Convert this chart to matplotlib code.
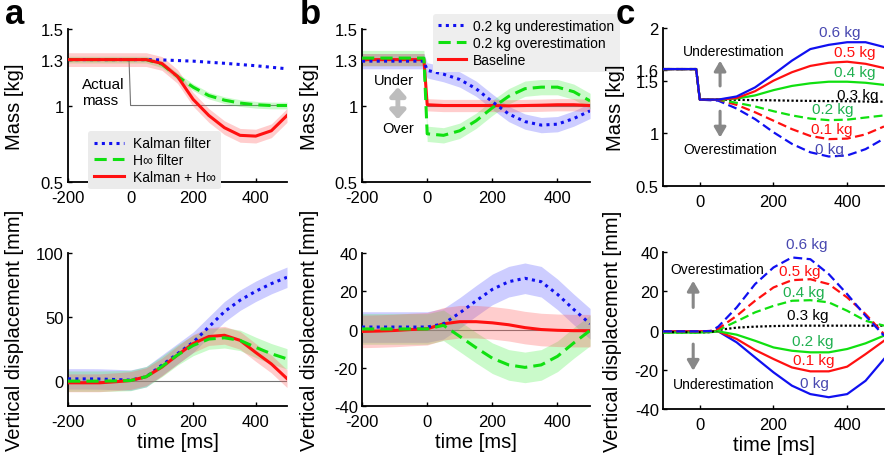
import matplotlib
matplotlib.use("Agg")
import matplotlib.pyplot as plt
import numpy as np

plt.rcParams['font.family'] = ['Liberation Sans', 'DejaVu Sans']
plt.rcParams['axes.unicode_minus'] = False

BLUE = '#1010f0'
GREEN = '#10e010'
RED = '#ff1010'
TXT_BLUE = '#4848b0'
TXT_GREEN = '#20b050'
BAND = {'blue': '#5a5aff', 'green': '#50f050', 'red': '#ff5a5a'}

# ---------------- data ----------------
t_a = [-200, -150, -100, -50, 0, 50, 100, 150, 200, 250, 300, 350, 400, 450, 500]

# panel a, mass estimate [kg]
kalman_m = [1.3, 1.3, 1.3, 1.3, 1.3, 1.3, 1.298, 1.294, 1.29, 1.283, 1.276, 1.268, 1.26, 1.25, 1.24]
hinf_m = [1.3, 1.3, 1.3, 1.3, 1.3, 1.3, 1.27, 1.19, 1.12, 1.065, 1.035, 1.016, 1.005, 1.0, 1.0]
combo_m = [1.3, 1.3, 1.3, 1.3, 1.3, 1.3, 1.275, 1.19, 1.04, 0.935, 0.855, 0.805, 0.80, 0.835, 0.935]
actual_t = [-200, -5, 0, 500]
actual_m = [1.3, 1.3, 1.0, 1.0]

# panel a, vertical displacement [mm]
kalman_d = [1.3, 1.3, 1.2, 0.8, 0.3, 3, 12, 21, 30, 42, 54, 63, 70, 76, 81]
hinf_d = [-0.5, -0.5, -0.5, -0.3, 0, 3, 11, 20, 27.5, 32.5, 33.5, 31.5, 26, 21, 17]
combo_d = [-1.8, -1.8, -1.8, -1, 0, 3, 10.5, 20, 29, 34.5, 35.5, 31.5, 22, 13, 1.5]

# panel b
t_bm = [-200, -150, -100, -50, -10, 0, 50, 100, 150, 200, 250, 300, 350, 400, 450, 500]
under_m = [1.29, 1.29, 1.29, 1.29, 1.29, 1.23, 1.205, 1.17, 1.11, 1.025, 0.945, 0.895, 0.872, 0.878, 0.915, 0.965]
over_m = [1.31, 1.31, 1.31, 1.31, 1.31, 0.815, 0.805, 0.835, 0.9, 0.985, 1.06, 1.11, 1.12, 1.12, 1.09, 1.03]
base_m = [1.3, 1.3, 1.3, 1.3, 1.3, 1.005, 1.0, 1.0, 1.0, 1.0, 0.998, 1.0, 1.002, 1.005, 1.005, 1.0]

t_bd = t_a
under_d = [1.3, 1.3, 1.3, 1.3, 1.3, 3, 8.7, 15, 21, 25, 26.8, 25, 18.4, 10.5, 3]
over_d = [0.3, 0.3, 0.3, 0.3, 0.3, 2.2, -3.6, -9.5, -15, -18.5, -19.8, -18.5, -14, -7, -0.5]
base_d = [-1, -0.8, -0.5, 0, 0.4, 3, 4.1, 4.1, 3.5, 2.5, 1, 0, -0.4, -0.6, -0.6]

# band half widths
band_a_m = {'hinf': 0.022, 'combo': 0.045}
band_a_d = {'kalman': 8, 'hinf': 8, 'combo': 7}
band_b_m = {'under': 0.05, 'over': 0.05, 'base': 0.04}
band_b_d = {'under': 8, 'over': 8, 'base': 8.5}

# panel c
loads = ['0.6 kg', '0.5 kg', '0.4 kg', '0.3 kg', '0.2 kg', '0.1 kg', '0 kg']
t_cm = [-100, -50, -10, 0, 50, 100, 150, 200, 250, 300, 350, 400, 450, 500]
c_mass = [
    [1.61, 1.61, 1.61, 1.32, 1.32, 1.35, 1.436, 1.56, 1.69, 1.80, 1.84, 1.865, 1.865, 1.82],
    [1.61, 1.61, 1.61, 1.32, 1.32, 1.335, 1.40, 1.50, 1.58, 1.64, 1.67, 1.68, 1.66, 1.62],
    [1.61, 1.61, 1.61, 1.32, 1.32, 1.33, 1.36, 1.41, 1.45, 1.475, 1.49, 1.49, 1.48, 1.46],
    [1.61, 1.61, 1.61, 1.32, 1.32, 1.318, 1.315, 1.313, 1.31, 1.308, 1.306, 1.305, 1.302, 1.30],
    [1.61, 1.61, 1.61, 1.32, 1.32, 1.29, 1.255, 1.21, 1.17, 1.14, 1.125, 1.13, 1.15, 1.17],
    [1.61, 1.61, 1.61, 1.32, 1.32, 1.27, 1.20, 1.12, 1.04, 0.975, 0.945, 0.95, 0.99, 1.065],
    [1.61, 1.61, 1.61, 1.32, 1.31, 1.235, 1.135, 1.01, 0.90, 0.82, 0.78, 0.79, 0.85, 0.95],
]
t_cd = [-100, -50, 0, 30, 50, 100, 150, 200, 250, 300, 350, 400, 450, 500]
c_disp = [
    [-0.4, -0.4, -0.4, -0.2, 2, 11.8, 23.7, 32.2, 37.3, 36.4, 28.8, 18.6, 7.5, -2.6],
    [-0.4, -0.4, -0.4, -0.2, 1, 7.5, 15.2, 22, 25.7, 26.2, 23.7, 16.9, 8.4, -1.8],
    [-1, -1, -1, -0.5, 0.3, 4.7, 9.3, 12.6, 15.2, 15.5, 14.4, 10.1, 5, 2.5],
    [-0.8, -0.8, -0.8, -0.8, 0.3, 1.5, 2, 2.3, 2.5, 2.5, 2.5, 2.5, 2.5, 2.5],
    [-1, -1, -1, -0.8, -0.4, -2.1, -5.2, -8.6, -10.3, -11.1, -11.1, -9.4, -6.5, -2.6],
    [-0.4, -0.4, -0.4, -0.4, -0.4, -4.3, -9.9, -14.5, -18.8, -20.8, -20.8, -18.4, -12, -5.2],
    [-0.4, -0.4, -0.4, -0.4, -0.4, -6, -13.7, -21.3, -28.1, -32.4, -34, -32.4, -25.6, -14.5],
]
c_colors = [BLUE, RED, GREEN, 'black', GREEN, RED, BLUE]
c_txt_colors = [TXT_BLUE, RED, TXT_GREEN, 'black', TXT_GREEN, RED, TXT_BLUE]
c_mass_styles = ['-', '-', '-', (0, (1, 1)), (0, (4, 2)), (0, (4, 2)), (0, (4, 2))]
c_disp_styles = [(0, (4, 2)), (0, (4, 2)), (0, (4, 2)), (0, (1, 1)), '-', '-', '-']
c_mass_lab = [(381, 1.965), (420, 1.775), (420, 1.585), (429, 1.36), (360, 1.23), (358, 1.045), (352, 0.855)]
c_disp_lab = [(290, 44), (270, 30.5), (282, 19.5), (293, 8), (307, -5.2), (309, -15), (311, -26.9)]

DOT = (0, (1, 1.4))
DASH = (0, (4, 2))

fig = plt.figure(figsize=(8.88, 4.64), dpi=100)


def add_ax(l, b, w, h):
    ax = fig.add_axes([l, b, w, h])
    for s in ['top', 'right']:
        ax.spines[s].set_visible(False)
    for s in ['left', 'bottom']:
        ax.spines[s].set_linewidth(1.3)
    ax.tick_params(direction='in', length=3, width=1, labelsize=12, pad=3)
    ax.tick_params(axis='x', pad=6)
    return ax


def band(ax, x, y, w, color):
    y = np.array(y)
    ax.fill_between(x, y - w, y + w, color=color, alpha=0.3, lw=0, zorder=1)


ax1 = add_ax(0.0766, 0.6056, 0.2466, 0.3297)
ax2 = add_ax(0.0766, 0.1228, 0.2466, 0.3297)
ax3 = add_ax(0.4077, 0.6056, 0.2568, 0.3297)
ax4 = add_ax(0.4077, 0.1228, 0.2568, 0.3297)
ax5 = add_ax(0.7466, 0.597, 0.2489, 0.3405)
ax6 = add_ax(0.7466, 0.1164, 0.2489, 0.338)

# ---- panel a top
ax1.plot(actual_t, actual_m, color='0.45', lw=0.8, zorder=0.5)
band(ax1, t_a, hinf_m, band_a_m['hinf'], BAND['green'])
band(ax1, t_a, combo_m, band_a_m['combo'], BAND['red'])
ax1.plot(t_a, kalman_m, color=BLUE, ls=DOT, lw=2.2, label='Kalman filter', zorder=3)
ax1.plot(t_a, hinf_m, color=GREEN, ls=DASH, lw=2.2, label='H∞ filter', zorder=3)
ax1.plot(t_a, combo_m, color=RED, ls='-', lw=2.2, label='Kalman + H∞', zorder=3)
ax1.set_xlim(-200, 500)
ax1.set_ylim(0.5, 1.5)
ax1.set_yticks([0.5, 1, 1.3, 1.5])
ax1.set_yticklabels(['0.5', '1', '1.3', '1.5'])
ax1.set_xticks([-200, 0, 200, 400])
ax1.set_ylabel('Mass [kg]', fontsize=14.5)
ax1.yaxis.set_label_coords(-0.2, 0.5)
ax1.text(-156, 1.09, 'Actual\nmass', fontsize=11, ha='left', va='center', linespacing=1.2)
leg = ax1.legend(loc='upper left', bbox_to_anchor=(0.06, 0.38), fontsize=10, frameon=True,
                 fancybox=True, handlelength=2.2, borderpad=0.4, labelspacing=0.2,
                 handletextpad=0.6)
leg.get_frame().set_facecolor('#ebebeb')
leg.get_frame().set_edgecolor('none')
leg.get_frame().set_alpha(1)

# ---- panel a bottom
ax2.axhline(0, color='0.45', lw=0.8, zorder=0.5)
band(ax2, t_a, kalman_d, band_a_d['kalman'], BAND['blue'])
band(ax2, t_a, hinf_d, band_a_d['hinf'], BAND['green'])
band(ax2, t_a, combo_d, band_a_d['combo'], BAND['red'])
ax2.plot(t_a, kalman_d, color=BLUE, ls=DOT, lw=2.2, zorder=3)
ax2.plot(t_a, combo_d, color=RED, ls='-', lw=2.2, zorder=3)
ax2.plot(t_a, hinf_d, color=GREEN, ls=DASH, lw=2.2, zorder=3)
ax2.set_xlim(-200, 500)
ax2.set_ylim(-20, 100)
ax2.set_yticks([0, 50, 100])
ax2.set_xticks([-200, 0, 200, 400])
ax2.set_ylabel('Vertical displacement [mm]', fontsize=14.5)
ax2.yaxis.set_label_coords(-0.2, 0.5)
ax2.set_xlabel('time [ms]', fontsize=14.5, labelpad=2)

# ---- panel b top
ax3.plot([0, 500], [1, 1], color='0.45', lw=0.8, zorder=0.5)
band(ax3, t_bm, under_m, band_b_m['under'], BAND['blue'])
band(ax3, t_bm, over_m, band_b_m['over'], BAND['green'])
band(ax3, t_bm, base_m, band_b_m['base'], BAND['red'])
ax3.plot(t_bm, under_m, color=BLUE, ls=DOT, lw=2.2, label='0.2 kg underestimation', zorder=3)
ax3.plot(t_bm, over_m, color=GREEN, ls=DASH, lw=2.2, label='0.2 kg overestimation', zorder=3)
ax3.plot(t_bm, base_m, color=RED, ls='-', lw=2.2, label='Baseline', zorder=2.9)
ax3.set_xlim(-200, 500)
ax3.set_ylim(0.5, 1.5)
ax3.set_yticks([0.5, 1, 1.3, 1.5])
ax3.set_yticklabels(['0.5', '1', '1.3', '1.5'])
ax3.set_xticks([-200, 0, 200, 400])
ax3.set_ylabel('Mass [kg]', fontsize=14.5)
ax3.yaxis.set_label_coords(-0.19, 0.5)
ax3.text(-103, 1.17, 'Under', fontsize=10.5, ha='center', va='center')
ax3.text(-88, 0.853, 'Over', fontsize=10.5, ha='center', va='center')
ax3.annotate('', xy=(-90, 0.91), xytext=(-90, 1.12),
             arrowprops=dict(arrowstyle='<|-|>,head_width=0.45,head_length=0.5',
                             lw=3.5, color='#bdbdbd', shrinkA=0, shrinkB=0))
leg = ax3.legend(loc='upper left', bbox_to_anchor=(0.28, 1.145), fontsize=10, frameon=True,
                 fancybox=True, handlelength=2.0, borderpad=0.4, labelspacing=0.2,
                 handletextpad=0.5)
leg.get_frame().set_facecolor('#eeeeee')
leg.get_frame().set_edgecolor('none')
leg.get_frame().set_alpha(1)
leg.set_zorder(5)

# ---- panel b bottom
ax4.axhline(0, color='0.45', lw=0.8, zorder=0.5)
band(ax4, t_bd, under_d, band_b_d['under'], BAND['blue'])
band(ax4, t_bd, over_d, band_b_d['over'], BAND['green'])
band(ax4, t_bd, base_d, band_b_d['base'], BAND['red'])
ax4.plot(t_bd, base_d, color=RED, ls='-', lw=2.2, zorder=3)
ax4.plot(t_bd, under_d, color=BLUE, ls=DOT, lw=2.2, zorder=3)
ax4.plot(t_bd, over_d, color=GREEN, ls=DASH, lw=2.2, zorder=3)
ax4.set_xlim(-200, 500)
ax4.set_ylim(-40, 40)
ax4.set_yticks([-40, -20, 0, 20, 40])
ax4.set_xticks([-200, 0, 200, 400])
ax4.set_ylabel('Vertical displacement [mm]', fontsize=14.5)
ax4.yaxis.set_label_coords(-0.19, 0.5)
ax4.set_xlabel('time [ms]', fontsize=14.5, labelpad=2)

# ---- panel c top
for i in range(len(loads)):
    ax5.plot(t_cm, c_mass[i], color=c_colors[i], ls=c_mass_styles[i], lw=1.6, zorder=3 - i * 0.01)
    ax5.text(c_mass_lab[i][0], c_mass_lab[i][1], loads[i], color=c_txt_colors[i],
             fontsize=11, ha='center', va='center')
ax5.set_xlim(-100, 500)
ax5.set_ylim(0.5, 2)
ax5.set_yticks([0.5, 1, 1.5, 1.6, 2])
ax5.set_yticklabels(['0.5', '1', '1.5', '1.6', '2'])
ax5.set_xticks([0, 200, 400])
ax5.set_ylabel('Mass [kg]', fontsize=14.5)
ax5.yaxis.set_label_coords(-0.17, 0.5)
ax5.text(92, 1.785, 'Underestimation', fontsize=10, ha='center', va='center')
ax5.text(83, 0.85, 'Overestimation', fontsize=10, ha='center', va='center')
arr = dict(arrowstyle='-|>,head_width=0.35,head_length=0.6', lw=2.2, color='#888888',
           shrinkA=0, shrinkB=0)
ax5.annotate('', xy=(55, 1.69), xytext=(55, 1.45), arrowprops=arr)
ax5.annotate('', xy=(55, 0.96), xytext=(55, 1.21), arrowprops=arr)

# ---- panel c bottom
for i in range(len(loads)):
    ax6.plot(t_cd, c_disp[i], color=c_colors[i], ls=c_disp_styles[i], lw=1.6, zorder=3 - i * 0.01)
    ax6.text(c_disp_lab[i][0], c_disp_lab[i][1], loads[i], color=c_txt_colors[i],
             fontsize=11, ha='center', va='center')
ax6.set_xlim(-100, 500)
ax6.set_ylim(-40, 40)
ax6.set_yticks([-40, -20, 0, 20, 40])
ax6.set_xticks([0, 200, 400])
ax6.set_ylabel('Vertical displacement [mm]', fontsize=14.5)
ax6.yaxis.set_label_coords(-0.185, 0.5)
ax6.set_xlabel('time [ms]', fontsize=14.5, labelpad=2)
ax6.text(48, 31.3, 'Overestimation', fontsize=10, ha='center', va='center')
ax6.text(66, -27.3, 'Underestimation', fontsize=10, ha='center', va='center')
ax6.annotate('', xy=(-18, 25.4), xytext=(-18, 11.8), arrowprops=arr)
ax6.annotate('', xy=(-18, -20.5), xytext=(-18, -6.9), arrowprops=arr)

# panel letters
fig.text(0.017, 0.968, 'a', fontsize=25, fontweight='bold', ha='center', va='center')
fig.text(0.349, 0.968, 'b', fontsize=25, fontweight='bold', ha='center', va='center')
fig.text(0.704, 0.968, 'c', fontsize=25, fontweight='bold', ha='center', va='center')

fig.savefig('out.png', dpi=100)
